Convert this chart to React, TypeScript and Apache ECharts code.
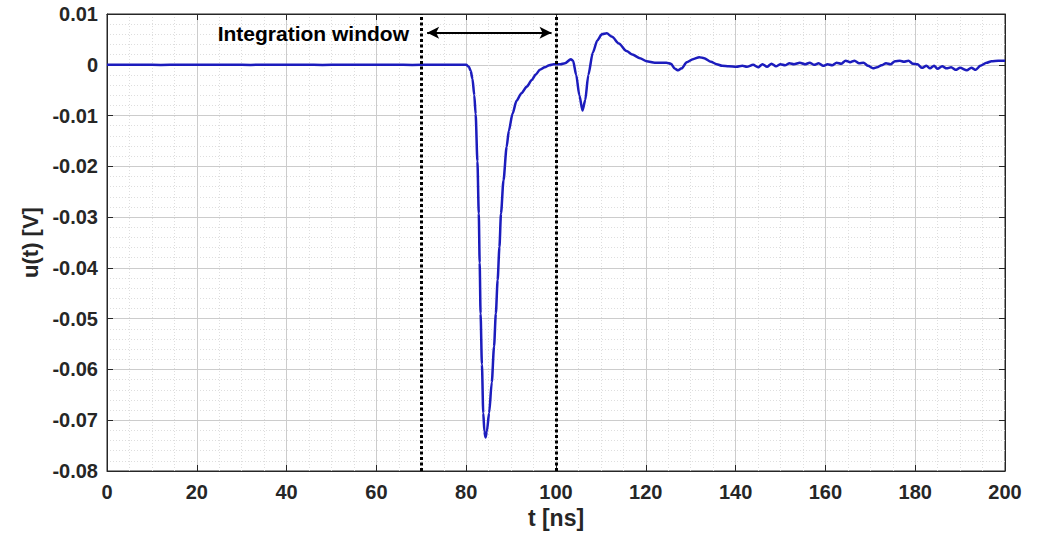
import React, { useEffect, useRef } from "react";
import * as echarts from "echarts";

// Time axis samples [ns]
const tNs: number[] = [
  0, 4, 8, 12, 16, 20, 24, 28, 32, 36, 40, 44, 48, 52, 56, 60, 64, 68, 72, 76,
  78, 79.2, 80.0, 80.6, 81.0, 81.4, 81.8, 82.1, 82.5, 82.8, 83.0, 83.2, 83.5,
  83.8, 84.05, 84.3, 84.6, 85.1, 85.7, 86.2, 86.6, 87.0, 87.4, 87.75, 88.3,
  89.0, 89.5, 90.3, 91.2, 92.3, 93.5, 94.6, 95.5, 96.4, 97.5, 98.5, 99.5, 101,
  102, 103.3, 103.8, 104.5, 105.2, 105.9, 106.5, 107.2, 108.2, 109.2, 110.2,
  111.3, 112.5, 114, 115.7, 117, 118.7, 120.2, 122, 124.6, 125.6, 126.5, 127.2,
  128, 129.1, 130.5, 131.9, 133, 134.5, 135.8, 137, 138.5, 140.2, 141.5, 142.5,
  143.9, 145, 146, 147, 148, 149, 150, 151, 152, 153, 154.3, 155.5, 156.5,
  157.5, 158.5, 159.5, 160.5, 161.5, 162.5, 163.5, 164.5, 165.5, 166.5, 167.5,
  168.5, 169.5, 170.6, 171.5, 172.5, 173.5, 174.5, 175.5, 176.6, 177.5, 178.5,
  179.5, 180.5, 181.5, 182.5, 183.3, 184.2, 185, 186, 187, 188, 189, 190, 191.5,
  192.5, 193.5, 194.5, 195.9, 197, 198.5, 200,
];

// Measured voltage u(t) [V]
const uVolt: number[] = [
  0, 0.00003, 0, -0.00002, 0.00002, 0, 0.00002, 0, -0.00002, 0, 0.00002, 0,
  -0.00002, 0.00002, 0, 0.00002, 0, -0.00002, 0, 0.00002,
  0, 0.00002, 0, -0.0004, -0.0012, -0.0028, -0.006, -0.0097, -0.019, -0.0293,
  -0.039, -0.049, -0.059, -0.0686, -0.0722, -0.0734, -0.0722, -0.0686, -0.0625,
  -0.0555, -0.049, -0.0424, -0.0359, -0.0293, -0.0228, -0.0162, -0.013,
  -0.0097, -0.0071, -0.0056, -0.0043, -0.003, -0.0019, -0.001, -0.0005,
  -0.0001, 0.0001, 0.0001, 0.0003, 0.0011, 0.0008, -0.002, -0.006, -0.009,
  -0.007, -0.002, 0.0024, 0.0048, 0.006, 0.0062, 0.0055, 0.0042, 0.0027, 0.002,
  0.0013, 0.0007, 0.0004, 0.0004, 0.0002, -0.0008, -0.0011, -0.0007, 0.0005,
  0.0011, 0.0015, 0.0013, 0.0006, 0.0001, -0.0002, -0.0003, -0.0004, -0.0002,
  -0.0004, 0.0, -0.0005, 0.0001, -0.0004, 0.0002, -0.0003, 0.0001, -0.0001,
  0.0003, 0.0001, 0.0004, 0.0001, 0.0004, 0.0, 0.0003, -0.0002, 0.0001,
  -0.0001, 0.0004, 0.0002, 0.0008, 0.0005, 0.0008, 0.0003, 0.0004, -0.0002,
  -0.0007, -0.0005, -0.0001, 0.0003, 0.0001, 0.0007, 0.0008, 0.0006, 0.0008,
  0.0002, 0.0001, -0.0006, -0.0002, -0.0007, -0.0002, -0.0008, -0.0003,
  -0.0007, -0.0005, -0.001, -0.0006, -0.0011, -0.0006, -0.001, -0.0002, 0.0004,
  0.0007, 0.0008, 0.0008,
];

// Integration window bounds [ns] and arrow endpoints
const windowBounds: number[] = [70, 100];
const arrowFrom: [number, number] = [71.3, 0.0063];
const arrowTo: [number, number] = [99, 0.0063];
const windowLabel = "Integration window";

const xTicks = { min: 0, max: 200, interval: 20 };
const yTicks = { min: -0.08, max: 0.01, interval: 0.01 };

const FONT = "'Liberation Sans', Arial, sans-serif";
const INK = "#262626";

const fmtY = (v: number) => (Math.abs(v) < 1e-9 ? "0" : v.toFixed(2));

export default function App() {
  const ref = useRef<HTMLDivElement>(null);

  useEffect(() => {
    if (!ref.current) return;
    const chart = echarts.init(ref.current, undefined, { renderer: "svg" });

    const series = tNs.map((t, i) => [t, uVolt[i]]);

    const boxAxisX = {
      type: "value" as const,
      min: xTicks.min,
      max: xTicks.max,
      interval: xTicks.interval,
    };
    const boxAxisY = {
      type: "value" as const,
      min: yTicks.min,
      max: yTicks.max,
      interval: yTicks.interval,
    };
    const frameLine = { show: true, onZero: false, lineStyle: { color: INK, width: 1 } };
    const innerTick = { show: true, inside: true, length: 6, lineStyle: { color: INK } };

    chart.setOption({
      animation: false,
      backgroundColor: "#ffffff",
      grid: {
        left: 107,
        right: 46,
        top: 14,
        bottom: 65,
        show: true,
        borderColor: INK,
        borderWidth: 1,
        backgroundColor: "#ffffff",
      },
      xAxis: [
        {
          ...boxAxisX,
          position: "bottom",
          name: "t [ns]",
          nameLocation: "middle",
          nameGap: 34,
          nameTextStyle: { fontFamily: FONT, fontWeight: "bold", fontSize: 23, color: INK },
          axisLine: frameLine,
          axisTick: innerTick,
          axisLabel: { fontFamily: FONT, fontWeight: "bold", fontSize: 20, color: INK, margin: 11 },
          splitLine: { show: true, lineStyle: { color: "#cccccc", width: 1 } },
          minorTick: { show: false, splitNumber: 4 },
          minorSplitLine: { show: true, lineStyle: { color: "#dedede", type: [1, 2], width: 1 } },
        },
        {
          ...boxAxisX,
          position: "top",
          axisLine: frameLine,
          axisTick: innerTick,
          axisLabel: { show: false },
          splitLine: { show: false },
        },
      ],
      yAxis: [
        {
          ...boxAxisY,
          position: "left",
          name: "u(t) [V]",
          nameLocation: "middle",
          nameGap: 64,
          nameTextStyle: { fontFamily: FONT, fontWeight: "bold", fontSize: 22, color: INK },
          axisLine: frameLine,
          axisTick: innerTick,
          axisLabel: { fontFamily: FONT, fontWeight: "bold", fontSize: 20, color: INK, margin: 9, formatter: fmtY },
          splitLine: { show: true, lineStyle: { color: "#cccccc", width: 1 } },
          minorTick: { show: false, splitNumber: 5 },
          minorSplitLine: { show: true, lineStyle: { color: "#dedede", type: [1, 2], width: 1 } },
        },
        {
          ...boxAxisY,
          position: "right",
          axisLine: frameLine,
          axisTick: innerTick,
          axisLabel: { show: false },
          splitLine: { show: false },
        },
      ],
      series: [
        {
          type: "line",
          data: series,
          xAxisIndex: 0,
          yAxisIndex: 0,
          showSymbol: false,
          smooth: 0.25,
          smoothMonotone: "x",
          lineStyle: { color: "#1c1cbd", width: 2.5 },
          z: 3,
          markLine: {
            silent: true,
            animation: false,
            symbol: ["none", "none"],
            label: { show: false },
            z: 4,
            data: [
              ...windowBounds.map((x) => ({
                xAxis: x,
                lineStyle: { color: "#000000", width: 3, type: [3, 2.5] },
              })),
              [
                {
                  coord: arrowFrom,
                  symbol: "arrow",
                  symbolSize: [9, 12],
                  lineStyle: { color: "#000000", width: 2, type: "solid" },
                },
                {
                  coord: arrowTo,
                  symbol: "arrow",
                  symbolSize: [9, 12],
                },
              ],
            ],
          },
        },
      ],
      graphic: [
        {
          type: "text",
          right: 1051 - 409,
          top: 23,
          style: {
            text: windowLabel,
            fontFamily: FONT,
            fontWeight: "bold",
            fontSize: 21,
            fill: "#000000",
          },
          z: 10,
        },
      ],
    });

    return () => chart.dispose();
  }, []);

  return (
    <div
      ref={ref}
      style={{ position: "absolute", left: 0, top: 0, width: 1051, height: 536 }}
    />
  );
}
